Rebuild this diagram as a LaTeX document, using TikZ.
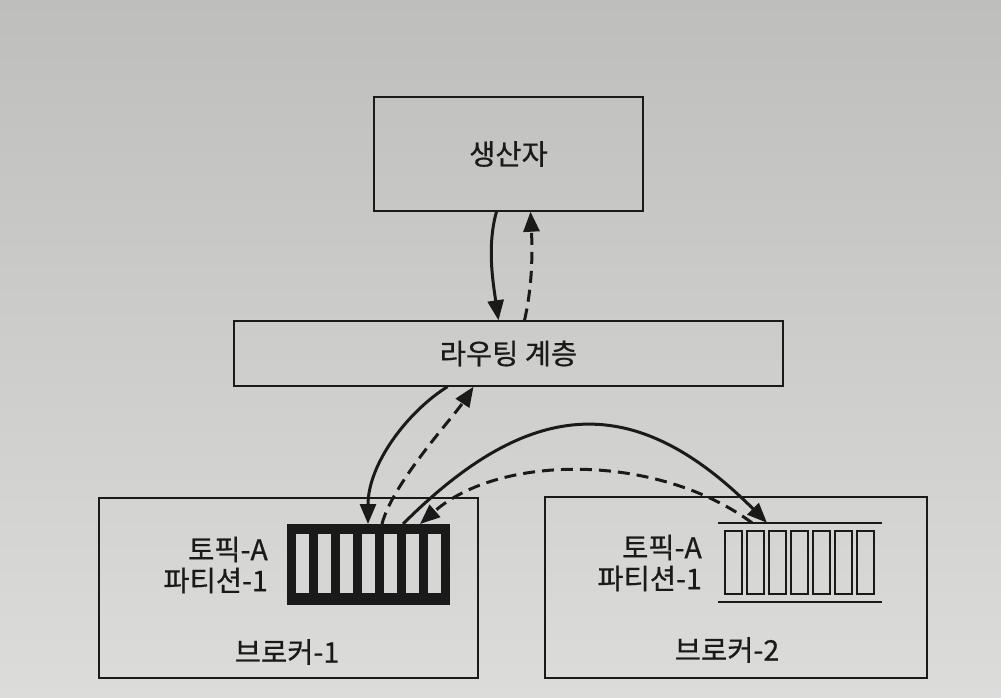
\documentclass[tikz,border=0pt]{standalone}
\usepackage{fontspec}
\setmainfont{Noto Sans CJK KR}[FakeBold=0.6]
\usetikzlibrary{arrows.meta}
\definecolor{pagetop}{HTML}{BEBEBC}
\definecolor{pagebot}{HTML}{DCDCDA}
\definecolor{slot}{HTML}{D6D6D4}
\definecolor{ink}{HTML}{1A1A1A}
\begin{document}
\begin{tikzpicture}[x=1pt,y=-1pt,
  box/.style={draw=ink, line width=1.4pt, inner sep=0pt},
  lbl/.style={font=\fontsize{28.5}{31}\selectfont, text=ink},
  flow/.style={draw=ink, line width=3pt, -{Triangle[length=20pt,width=16pt]}},
  ret/.style={flow, dash pattern=on 12pt off 7pt},
]
\fill[top color=pagetop, bottom color=pagebot] (0,0) rectangle (1001,698);
\useasboundingbox (0,0) rectangle (1001,698);

% boxes
\node[box, lbl, minimum width=269pt, minimum height=114pt] (prod) at (508.5,154) {생산자};
\node[box, lbl, minimum width=549pt, minimum height=65pt] (route) at (508.5,353.5) {라우팅 계층};
\node[box, minimum width=379pt, minimum height=180pt] (b1) at (288.5,588) {};
\node[box, minimum width=382pt, minimum height=181pt] (b2) at (736,587.5) {};

% partition on broker-1 (leader)
\node[draw=ink, fill=ink, line width=0pt, minimum width=162pt, minimum height=80pt, inner sep=0pt] (p1) at (368,564) {};
\foreach \i in {0,...,6} \fill[slot] (296+22*\i,534) rectangle ++(12.5,59);

% partition on broker-2 (follower)
\node[minimum width=164pt, minimum height=79pt, inner sep=0pt] (p2) at (800,562.5) {};
\draw[ink, line width=2pt] (p2.north west) -- (p2.north east);
\draw[ink, line width=2pt] (p2.south west) -- (p2.south east);
\foreach \i in {0,...,6} \draw[ink, line width=1.6pt] (725+22*\i,531) rectangle ++(17,63);

% labels
\node[lbl, align=right, anchor=east, inner sep=0pt] (t1) at (268,565) {토픽-A\\파티션-1};
\node[lbl, align=right, anchor=east, inner sep=0pt] (t2) at (702,563) {토픽-A\\파티션-1};
\node[lbl] (n1) at (287,652) {브로커-1};
\node[lbl] (n2) at (727,650) {브로커-2};

% connectors
\draw[flow] ([xshift=-12pt]prod.south) .. controls +(-10,35) and +(-5,-35) .. ([xshift=-10pt]route.north);
\draw[ret] ([xshift=16pt]route.north) .. controls +(8,-35) and +(2,40) .. ([xshift=22pt]prod.south);
\draw[flow] ([xshift=-61pt]route.south) .. controls +(-40,25) and +(0,-60) .. (p1.north);
\draw[ret] ([xshift=14pt]p1.north) .. controls +(10,-40) and +(-20,30) .. ([xshift=-35pt]route.south);
\draw[flow] ([xshift=35pt]p1.north) .. controls +(130,-130) and +(-130,-130) .. ([xshift=-33pt]p2.north);
\draw[ret] ([xshift=-48pt]p2.north) .. controls +(-95,-70) and +(80,-70) .. ([xshift=52pt]p1.north);
\end{tikzpicture}
\end{document}
